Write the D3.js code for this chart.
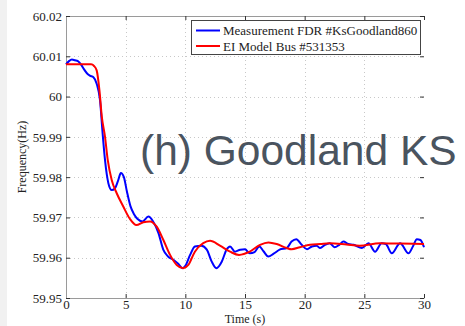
<!DOCTYPE html>
<html>
<head>
<meta charset="utf-8">
<script src="https://cdn.jsdelivr.net/npm/d3@7"></script>
<style>
  html, body { margin: 0; padding: 0; background: #fff; }
  svg { display: block; }
</style>
</head>
<body>
<svg id="chart" width="465" height="326"></svg>
<script>
// Frequency response at Goodland KS: FDR measurement vs. EI model bus
const measTime = [0, 0.25, 0.5, 0.75, 1.0, 1.25, 1.5, 1.75, 2.0, 2.3, 2.57, 2.85, 3.07, 3.27, 3.55, 3.83,
  4.1, 4.35, 4.6, 4.85, 5.1, 5.4, 5.7, 6.0, 6.4, 6.9, 7.3, 7.75, 8.15, 8.55, 9.0, 9.4, 9.75, 10.0,
  10.4, 10.8, 11.35, 11.8, 12.2, 12.6, 13.05, 13.45, 13.75, 14.15, 14.6, 15.0, 15.4, 15.8, 16.2,
  16.55, 16.95, 17.4, 17.9, 18.5, 18.9, 19.3, 19.75, 20.2, 20.6, 21.0, 21.3, 21.7, 22.1, 22.5,
  22.9, 23.25, 23.65, 24.1, 24.8, 25.35, 25.9, 26.45, 26.8, 27.3, 28.0, 28.7, 29.1, 29.4, 29.7, 30.0];
const measFreq = [60.0080, 60.0088, 60.0092, 60.0090, 60.0088, 60.0080, 60.0068, 60.0058, 60.0052,
  60.0048, 60.0032, 59.9991, 59.9908, 59.9842, 59.9785, 59.9768, 59.9772, 59.9790, 59.9810, 59.9800,
  59.9765, 59.9728, 59.9708, 59.9696, 59.9690, 59.9702, 59.9690, 59.9661, 59.9620, 59.9603, 59.9595,
  59.9585, 59.9574, 59.9580, 59.9607, 59.9628, 59.9630, 59.9620, 59.9591, 59.9574, 59.9590, 59.9620,
  59.9628, 59.9615, 59.9620, 59.9621, 59.9611, 59.9614, 59.9628, 59.9616, 59.9603, 59.9610, 59.9620,
  59.9624, 59.9640, 59.9646, 59.9632, 59.9621, 59.9628, 59.9630, 59.9624, 59.9632, 59.9636, 59.9626,
  59.9632, 59.9640, 59.9634, 59.9632, 59.9624, 59.9636, 59.9615, 59.9636, 59.9634, 59.9611, 59.9636,
  59.9611, 59.9630, 59.9646, 59.9644, 59.9626];

const modelTime = [0, 2.1, 2.35, 2.57, 2.8, 3.0, 3.27, 3.5, 3.83, 4.25, 4.8, 5.36, 5.9, 6.48, 7.04,
  7.6, 8.16, 8.72, 9.28, 9.83, 10.25, 10.8, 11.5, 12.07, 12.9, 13.75, 14.5, 15.4, 16.26, 16.96,
  17.66, 18.5, 18.9, 19.6, 20.45, 21.3, 22.1, 23.5, 24.6, 26.3, 28.0, 30.0];
const modelFreq = [60.0080, 60.0080, 60.0076, 60.0065, 60.0016, 59.9950, 59.9900, 59.9842, 59.9793,
  59.9760, 59.9727, 59.9696, 59.9681, 59.9688, 59.9690, 59.9677, 59.9644, 59.9607, 59.9582, 59.9574,
  59.9582, 59.9615, 59.9636, 59.9642, 59.9630, 59.9615, 59.9607, 59.9615, 59.9632, 59.9638, 59.9634,
  59.9624, 59.9621, 59.9626, 59.9632, 59.9634, 59.9636, 59.9633, 59.9630, 59.9636, 59.9635, 59.9634];

const xTicks = [0, 5, 10, 15, 20, 25, 30];
const yTicks = [59.95, 59.96, 59.97, 59.98, 59.99, 60, 60.01, 60.02];
const yTickLabels = ["59.95", "59.96", "59.97", "59.98", "59.99", "60", "60.01", "60.02"];

const seriesNames = ["Measurement FDR #KsGoodland860", "EI Model Bus #531353"];
const seriesColors = ["#0000ff", "#ff0000"];

(function () {
  const svg = d3.select("#chart");
  const W = 465, H = 326;
  const mLeft = 66, mRight = 424, mTop = 16, mBottom = 298;

  // faint strip along the left edge of the page
  svg.append("rect").attr("x", 0).attr("y", 0).attr("width", 7).attr("height", H).attr("fill", "#f1f1f1");

  const x = d3.scaleLinear().domain([0, 30]).range([mLeft, mRight]);
  const y = d3.scaleLinear().domain([59.95, 60.02]).range([mBottom, mTop]);

  const serif = "'Liberation Serif', 'Times New Roman', serif";

  // dotted grid
  const grid = svg.append("g").attr("stroke", "#c8c8c8").attr("stroke-width", 1).attr("stroke-dasharray", "1,3");
  grid.selectAll("line.gx").data(xTicks.slice(1, -1)).join("line")
    .attr("x1", d => Math.round(x(d)) + 0.5).attr("x2", d => Math.round(x(d)) + 0.5)
    .attr("y1", mTop).attr("y2", mBottom);
  grid.selectAll("line.gy").data(yTicks.slice(1, -1)).join("line")
    .attr("x1", mLeft).attr("x2", mRight)
    .attr("y1", d => Math.round(y(d)) + 0.5).attr("y2", d => Math.round(y(d)) + 0.5);

  // axes with inward ticks
  const tickLen = 4;
  const xAxis = svg.append("g").attr("transform", `translate(0,${mBottom})`)
    .call(d3.axisBottom(x).tickValues(xTicks).tickSizeInner(-tickLen).tickSizeOuter(0).tickPadding(2).tickFormat(d3.format("d")));
  const xAxisTop = svg.append("g").attr("transform", `translate(0,${mTop})`)
    .call(d3.axisTop(x).tickValues(xTicks).tickSizeInner(-tickLen).tickSizeOuter(0).tickFormat(""));
  const yAxis = svg.append("g").attr("transform", `translate(${mLeft},0)`)
    .call(d3.axisLeft(y).tickValues(yTicks).tickSizeInner(-tickLen).tickSizeOuter(0).tickPadding(4)
      .tickFormat((d, i) => yTickLabels[i]));
  const yAxisRight = svg.append("g").attr("transform", `translate(${mRight},0)`)
    .call(d3.axisRight(y).tickValues(yTicks).tickSizeInner(-tickLen).tickSizeOuter(0).tickFormat(""));

  [xAxis, xAxisTop, yAxis, yAxisRight].forEach(g => {
    g.selectAll(".tick line").attr("stroke", "#333");
    g.selectAll("text").attr("font-family", serif).attr("font-size", 13).attr("fill", "#222");
  });
  xAxis.select(".domain").attr("stroke", "#9a9a9a");
  xAxisTop.select(".domain").attr("stroke", "#9a9a9a");
  yAxis.select(".domain").attr("stroke", "#9a9a9a");
  yAxisRight.select(".domain").attr("stroke", "none");

  // series lines
  const line = d3.line().x(d => x(d[0])).y(d => y(d[1])).curve(d3.curveMonotoneX);
  const measData = measTime.map((t, i) => [t, measFreq[i]]);
  const modelData = modelTime.map((t, i) => [t, modelFreq[i]]);
  const plot = svg.append("g");
  plot.append("path").datum(measData).attr("d", line)
    .attr("fill", "none").attr("stroke", seriesColors[0]).attr("stroke-width", 2);
  plot.append("path").datum(modelData).attr("d", line)
    .attr("fill", "none").attr("stroke", seriesColors[1]).attr("stroke-width", 2);

  // legend
  const lg = svg.append("g");
  lg.append("rect").attr("x", 191.5).attr("y", 20.5).attr("width", 229).attr("height", 34)
    .attr("fill", "#fff").attr("stroke", "#444").attr("stroke-width", 1);
  seriesNames.forEach((name, i) => {
    const ly = 30.5 + i * 15.5;
    lg.append("line").attr("x1", 196).attr("x2", 220).attr("y1", ly).attr("y2", ly)
      .attr("stroke", seriesColors[i]).attr("stroke-width", 2);
    lg.append("text").attr("x", 223).attr("y", ly + 4.5).text(name)
      .attr("font-family", serif).attr("font-size", 13).attr("fill", "#222");
  });

  // axis titles
  svg.append("text").attr("x", x(15)).attr("y", 323).attr("text-anchor", "middle")
    .attr("font-family", serif).attr("font-size", 12).attr("fill", "#222").text("Time (s)");
  svg.append("text").attr("transform", `translate(26,${(mTop + mBottom) / 2}) rotate(-90)`)
    .attr("text-anchor", "middle").attr("font-family", serif).attr("font-size", 12).attr("fill", "#222")
    .text("Frequency(Hz)");

  // panel caption
  svg.append("text").attr("x", 140).attr("y", 165)
    .attr("font-family", "'Liberation Sans', Arial, sans-serif").attr("font-size", 42.5).attr("fill", "#4a545f")
    .text("(h) Goodland KS");
})();
</script>
</body>
</html>
